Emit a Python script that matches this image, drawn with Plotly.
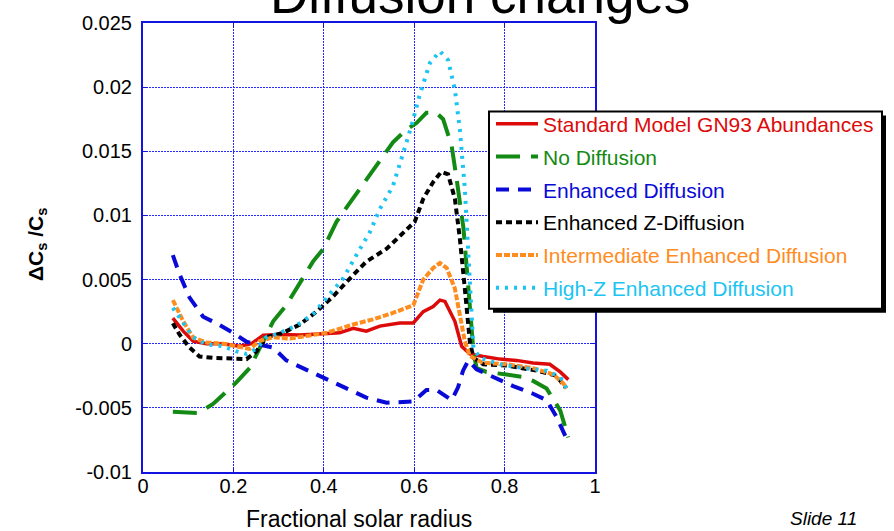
import plotly.graph_objects as go

# ---- data ----
std_x = [0.066, 0.089, 0.111, 0.14, 0.177, 0.214, 0.24, 0.266, 0.303, 0.347, 0.399, 0.435, 0.465, 0.494,
         0.524, 0.568, 0.598, 0.62, 0.642, 0.657, 0.668, 0.69, 0.705, 0.723, 0.753, 0.79, 0.826, 0.863,
         0.9, 0.923, 0.941]
std_y = [0.0020, 0.00098, 0.0002, 0.0, 0.0, -0.0002, 0.0, 0.00067, 0.00072, 0.00067, 0.00077, 0.00085,
         0.0012, 0.00098, 0.00137, 0.00162, 0.00162, 0.0025, 0.0029, 0.0034, 0.0033, 0.00175, -0.0002,
         -0.0008, -0.001, -0.0012, -0.0013, -0.0015, -0.0016, -0.0022, -0.0028]

nodiff_x = [0.066, 0.122, 0.155, 0.207, 0.236, 0.266, 0.288, 0.317, 0.339, 0.376, 0.399, 0.428, 0.454,
            0.487, 0.517, 0.553, 0.583, 0.605, 0.627, 0.649, 0.664, 0.683, 0.694, 0.709, 0.72, 0.731,
            0.738, 0.76, 0.804, 0.841, 0.863, 0.893, 0.923, 0.941]
nodiff_y = [-0.0053, -0.0054, -0.0047, -0.0030, -0.0019, 0.0002, 0.00175, 0.0030, 0.0043, 0.0064, 0.0074,
            0.0095, 0.0108, 0.0124, 0.0139, 0.0157, 0.0167, 0.0172, 0.0180, 0.0180, 0.0175, 0.0154, 0.0128,
            0.0090, 0.0043, -0.0006, -0.0019, -0.0022, -0.0024, -0.0026, -0.0029, -0.0035, -0.0052, -0.0073]

enh_x = [0.066, 0.081, 0.103, 0.133, 0.162, 0.199, 0.229, 0.258, 0.288, 0.317, 0.354, 0.399, 0.443, 0.494,
         0.539, 0.598, 0.627, 0.649, 0.683, 0.697, 0.708, 0.72, 0.738, 0.775, 0.819, 0.863, 0.893, 0.915,
         0.937]
enh_y = [0.0069, 0.0054, 0.0036, 0.0021, 0.0016, 0.00085, 0.00015, -0.00005, -0.0003, -0.0013, -0.0019,
         -0.0026, -0.0033, -0.0042, -0.0046, -0.0045, -0.0036, -0.0036, -0.0044, -0.0034, -0.0021, -0.0013,
         -0.0020, -0.0026, -0.0033, -0.0039, -0.0044, -0.0057, -0.0074]

enhz_x = [0.066, 0.081, 0.103, 0.125, 0.155, 0.199, 0.229, 0.251, 0.273, 0.31, 0.347, 0.384, 0.421, 0.458,
          0.494, 0.539, 0.576, 0.601, 0.62, 0.642, 0.66, 0.675, 0.69, 0.701, 0.712, 0.723, 0.731, 0.753,
          0.804, 0.871, 0.915, 0.934]
enhz_y = [0.0016, 0.0007, -0.0003, -0.0010, -0.0011, -0.0012, -0.0012, -0.0006, 0.0005, 0.00085, 0.0015,
          0.0025, 0.0037, 0.0051, 0.0064, 0.0074, 0.0086, 0.0095, 0.0113, 0.0126, 0.0134, 0.0132, 0.0113,
          0.0082, 0.0043, 0.0002, -0.0011, -0.0016, -0.0017, -0.0021, -0.0025, -0.0034]

inter_x = [0.066, 0.089, 0.111, 0.14, 0.177, 0.214, 0.236, 0.258, 0.288, 0.325, 0.362, 0.406, 0.465, 0.509,
           0.553, 0.598, 0.62, 0.642, 0.657, 0.672, 0.69, 0.701, 0.712, 0.723, 0.753, 0.804, 0.863, 0.908,
           0.93, 0.937]
inter_y = [0.0034, 0.00175, 0.00046, 0.0001, 0.0, -0.0003, -0.0004, 0.0002, 0.0005, 0.0004, 0.0006,
           0.00085, 0.0015, 0.0019, 0.0024, 0.0030, 0.0050, 0.0059, 0.0063, 0.0059, 0.0043, 0.0023, 0.0002,
           -0.00095, -0.0015, -0.0016, -0.0019, -0.0024, -0.0031, -0.0035]

highz_x = [0.066, 0.089, 0.111, 0.14, 0.177, 0.207, 0.229, 0.251, 0.273, 0.303, 0.339, 0.376, 0.406, 0.443,
           0.472, 0.502, 0.524, 0.553, 0.576, 0.594, 0.613, 0.635, 0.657, 0.675, 0.69, 0.701, 0.712, 0.72,
           0.731, 0.745, 0.79, 0.841, 0.893, 0.923, 0.941]
highz_y = [0.0028, 0.0016, 0.0005, -0.00005, -0.0002, -0.0006, -0.0008, -0.0004, 0.0005, 0.00085, 0.0014,
           0.0023, 0.0036, 0.0051, 0.0069, 0.0087, 0.0105, 0.0123, 0.0149, 0.0170, 0.0195, 0.0219, 0.0228,
           0.0221, 0.0198, 0.0167, 0.0121, 0.0069, -0.0003, -0.0011, -0.0016, -0.0019, -0.0021, -0.0026,
           -0.0037]

x_ticks = [0, 0.2, 0.4, 0.6, 0.8, 1]
x_ticklabels = ["0", "0.2", "0.4", "0.6", "0.8", "1"]
y_ticks = [-0.01, -0.005, 0, 0.005, 0.01, 0.015, 0.02, 0.025]
y_ticklabels = ["-0.01", "-0.005", "0", "0.005", "0.01", "0.015", "0.02", "0.025"]

FONT = "Liberation Sans, Arial, Helvetica, sans-serif"
BLUE_AX = "#1414e0"
BLUE_GRID = "#2a2aff"

W, H = 894, 531
ML, MR, MT, MB = 143, 299, 21, 59
PW, PH = W - ML - MR, H - MT - MB


def px_x(p):
    return (p - ML) / PW


def px_y(p):
    return 1 - (p - MT) / PH


series = [
    ("Standard Model GN93 Abundances", std_x, std_y, "#dd0a0a", "solid", 3.5),
    ("No Diffusion", nodiff_x, nodiff_y, "#138a13", "24px,11px", 4),
    ("Enhanced Diffusion", enh_x, enh_y, "#0a0ad8", "13px,9px", 4),
    ("Enhanced Z-Diffusion", enhz_x, enhz_y, "#000000", "6px,4px", 4),
    ("Intermediate Enhanced Diffusion", inter_x, inter_y, "#ff8c1e", "6px,2px", 4),
    ("High-Z Enhanced Diffusion", highz_x, highz_y, "#1cc4f2", "3px,6px", 4),
]

fig = go.Figure()
for i, (name, xs, ys, col, dash, w) in enumerate(series):
    fig.add_trace(go.Scatter(
        x=xs, y=ys, mode="lines",
        name=f'<span style="color:{col}">{name}</span>',
        line=dict(color=col, dash=dash, width=w),
        legendgroup=f"g{i}",
    ))

axis_common = dict(
    showline=True, linecolor=BLUE_AX, linewidth=2, mirror="ticks",
    ticks="inside", tickcolor=BLUE_AX, ticklen=5, tickwidth=1,
    showgrid=True, gridcolor=BLUE_GRID, gridwidth=1, griddash="2px,1px",
    zeroline=False,
    tickfont=dict(family=FONT, size=20, color="black"),
)

fig.update_xaxes(range=[0, 1], tickvals=x_ticks, ticktext=x_ticklabels,
                 ticklabelstandoff=-5, **axis_common)
fig.update_yaxes(range=[-0.01, 0.025], tickvals=y_ticks, ticktext=y_ticklabels,
                 ticklabelstandoff=5, **axis_common)

# legend frame with drop shadow
box_l, box_t, box_r, box_b = 489, 110, 882, 308
shapes = [
    dict(type="rect", xref="paper", yref="paper", layer="above",
         x0=px_x(box_l + 4), x1=px_x(box_r + 4), y0=px_y(box_b + 4), y1=px_y(box_t + 4),
         fillcolor="black", line=dict(width=0)),
    dict(type="rect", xref="paper", yref="paper", layer="above",
         x0=px_x(box_l), x1=px_x(box_r), y0=px_y(box_b), y1=px_y(box_t),
         fillcolor="white", line=dict(color="black", width=2)),
]

fig.update_layout(
    width=W, height=H,
    margin=dict(l=ML, r=MR, t=MT, b=MB),
    paper_bgcolor="white", plot_bgcolor="white",
    showlegend=True,
    shapes=shapes,
    legend=dict(
        x=px_x(491), y=px_y(102), xanchor="left", yanchor="top",
        bgcolor="rgba(0,0,0,0)", borderwidth=0,
        font=dict(family=FONT, size=21, color="black"),
        traceorder="grouped", tracegroupgap=2.5, itemwidth=42,
    ),
    annotations=[
        dict(text="Diffusion changes", xref="paper", yref="paper", x=px_x(480), y=px_y(24),
             xanchor="center", yanchor="bottom", showarrow=False,
             font=dict(family=FONT, size=53, color="black")),
        dict(text="<b>ΔC<sub>s</sub> /C<sub>s</sub></b>", xref="paper", yref="paper",
             x=px_x(37), y=px_y(244), xanchor="center", yanchor="middle", showarrow=False,
             textangle=-90, font=dict(family=FONT, size=21, color="black")),
        dict(text="Fractional solar radius", xref="paper", yref="paper", x=px_x(359), y=px_y(519),
             xanchor="center", yanchor="middle", showarrow=False,
             font=dict(family=FONT, size=23, color="black")),
        dict(text="<i>Slide 11</i>", xref="paper", yref="paper", x=px_x(823), y=px_y(519),
             xanchor="center", yanchor="middle", showarrow=False,
             font=dict(family=FONT, size=19, color="black")),
    ],
)

fig.write_html("out.html")
